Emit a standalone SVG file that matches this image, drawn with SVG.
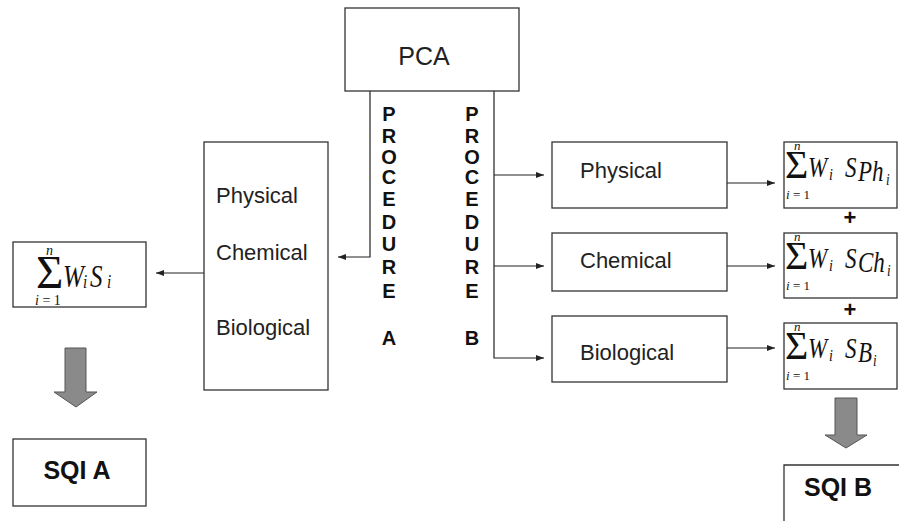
<svg xmlns="http://www.w3.org/2000/svg" width="899" height="521" viewBox="0 0 899 521">
<style>
.box{fill:#fff;stroke:#333;stroke-width:1.3}
.lbl{font-family:"Liberation Sans",Arial,sans-serif;font-size:22px;fill:#222}
.bold{font-family:"Liberation Sans",Arial,sans-serif;font-weight:bold;fill:#111}
.proc{font-family:"Liberation Sans",Arial,sans-serif;font-weight:bold;font-size:20px;fill:#111;text-anchor:middle}
.m{font-family:"Liberation Serif","Times New Roman",serif;fill:#111}
.it{font-style:italic}
.conn{fill:none;stroke:#222;stroke-width:1.2}
.big{fill:#8a8a8b;stroke:#555;stroke-width:1}
</style>
<defs>
<marker id="ah" viewBox="0 0 8 6" refX="8" refY="3" markerWidth="8" markerHeight="6" markerUnits="userSpaceOnUse" orient="auto">
<path d="M0,0 L8,3 L0,6 Z" fill="#222"/>
</marker>
</defs>

<g id="connectors">
<path class="conn" d="M370,91 V257 H338" marker-end="url(#ah)"/>
<path class="conn" d="M494,91 V358 H544" marker-end="url(#ah)"/>
<path class="conn" d="M494,175 H544" marker-end="url(#ah)"/>
<path class="conn" d="M494,266 H544" marker-end="url(#ah)"/>
<path class="conn" d="M204,273 H156" marker-end="url(#ah)"/>
<path class="conn" d="M727,183 H775" marker-end="url(#ah)"/>
<path class="conn" d="M727,266 H775" marker-end="url(#ah)"/>
<path class="conn" d="M727,348 H775" marker-end="url(#ah)"/>
<path class="big" d="M65,348 H86 V392 H97 L76,407 L54,392 H65 Z"/>
<path class="big" d="M835,398 H857 V435 H867 L846,448 L825,435 H835 Z"/>
</g>

<g id="pca">
<rect class="box" x="345" y="8" width="174" height="83"/>
<text class="lbl" x="424" y="65" text-anchor="middle" style="font-size:25px">PCA</text>
</g>

<g id="procedureA">
<text class="proc" x="389" y="121">P</text>
<text class="proc" x="389" y="143">R</text>
<text class="proc" x="389" y="164">O</text>
<text class="proc" x="389" y="184">C</text>
<text class="proc" x="389" y="206">E</text>
<text class="proc" x="389" y="229">D</text>
<text class="proc" x="389" y="251">U</text>
<text class="proc" x="389" y="274">R</text>
<text class="proc" x="389" y="298">E</text>
<text class="proc" x="389" y="345">A</text>
</g>

<g id="procedureB">
<text class="proc" x="472" y="121">P</text>
<text class="proc" x="472" y="143">R</text>
<text class="proc" x="472" y="164">O</text>
<text class="proc" x="472" y="184">C</text>
<text class="proc" x="472" y="206">E</text>
<text class="proc" x="472" y="229">D</text>
<text class="proc" x="472" y="251">U</text>
<text class="proc" x="472" y="274">R</text>
<text class="proc" x="472" y="298">E</text>
<text class="proc" x="472" y="345">B</text>
</g>

<g id="combined">
<rect class="box" x="204" y="142" width="124" height="248"/>
<text class="lbl" x="216" y="203">Physical</text>
<text class="lbl" x="216" y="260">Chemical</text>
<text class="lbl" x="216" y="335">Biological</text>
</g>

<g id="sumA">
<rect class="box" x="13" y="242" width="133" height="65"/>
<text class="m"><tspan class="it" x="46" y="255" font-size="14">n</tspan><tspan x="36" y="288" font-size="47">Σ</tspan><tspan x="35" y="305" font-size="14"><tspan class="it">i</tspan> = 1</tspan></text>
<g transform="translate(63,287) scale(1,1.3)">
<text class="m it" x="0" y="0" font-size="25">W</text>
<text class="m it" x="20" y="1" font-size="15">i</text>
<text class="m it" x="27" y="0" font-size="25">S</text>
<text class="m it" x="44" y="1" font-size="15">i</text>
</g>
</g>

<g id="sqiA">
<rect class="box" x="13" y="439" width="133" height="67"/>
<text class="bold" x="77" y="479" text-anchor="middle" font-size="25">SQI A</text>
</g>

<g id="physical">
<rect class="box" x="552" y="142" width="175" height="66"/>
<text class="lbl" x="580" y="178">Physical</text>
</g>
<g id="chemical">
<rect class="box" x="552" y="233" width="175" height="58"/>
<text class="lbl" x="580" y="268">Chemical</text>
</g>
<g id="biological">
<rect class="box" x="552" y="316" width="175" height="66"/>
<text class="lbl" x="580" y="360">Biological</text>
</g>

<g id="sumPh">
<rect class="box" x="784" y="142" width="113" height="66"/>
<text class="m"><tspan class="it" x="794" y="150" font-size="13">n</tspan><tspan x="785" y="178" font-size="40">Σ</tspan><tspan x="786" y="199" font-size="13"><tspan class="it">i</tspan> = 1</tspan></text>
<g transform="translate(808,177) scale(1,1.25)">
<text class="m it" x="0" y="0" font-size="23">W</text>
<text class="m it" x="21" y="2" font-size="14">i</text>
<text class="m it" x="37" y="0" font-size="23">S</text>
<text class="m it" x="50" y="3" font-size="23">Ph</text>
<text class="m it" x="78" y="6" font-size="13">i</text>
</g>
</g>
<text class="bold" x="850" y="225" text-anchor="middle" font-size="22">+</text>

<g id="sumCh">
<rect class="box" x="784" y="233" width="113" height="65"/>
<text class="m"><tspan class="it" x="794" y="241" font-size="13">n</tspan><tspan x="785" y="269" font-size="40">Σ</tspan><tspan x="786" y="290" font-size="13"><tspan class="it">i</tspan> = 1</tspan></text>
<g transform="translate(808,268) scale(1,1.25)">
<text class="m it" x="0" y="0" font-size="23">W</text>
<text class="m it" x="21" y="2" font-size="14">i</text>
<text class="m it" x="37" y="0" font-size="23">S</text>
<text class="m it" x="50" y="3" font-size="23">Ch</text>
<text class="m it" x="79" y="6" font-size="13">i</text>
</g>
</g>
<text class="bold" x="850" y="317" text-anchor="middle" font-size="22">+</text>

<g id="sumB">
<rect class="box" x="784" y="323" width="113" height="66"/>
<text class="m"><tspan class="it" x="794" y="331" font-size="13">n</tspan><tspan x="785" y="359" font-size="40">Σ</tspan><tspan x="786" y="380" font-size="13"><tspan class="it">i</tspan> = 1</tspan></text>
<g transform="translate(808,358) scale(1,1.25)">
<text class="m it" x="0" y="0" font-size="23">W</text>
<text class="m it" x="21" y="2" font-size="14">i</text>
<text class="m it" x="37" y="0" font-size="23">S</text>
<text class="m it" x="50" y="3" font-size="23">B</text>
<text class="m it" x="65" y="6" font-size="13">i</text>
</g>
</g>

<g id="sqiB">
<path class="box" d="M784,521 V465 H905" />
<text class="bold" x="804" y="496" font-size="25">SQI B</text>
</g>
</svg>
